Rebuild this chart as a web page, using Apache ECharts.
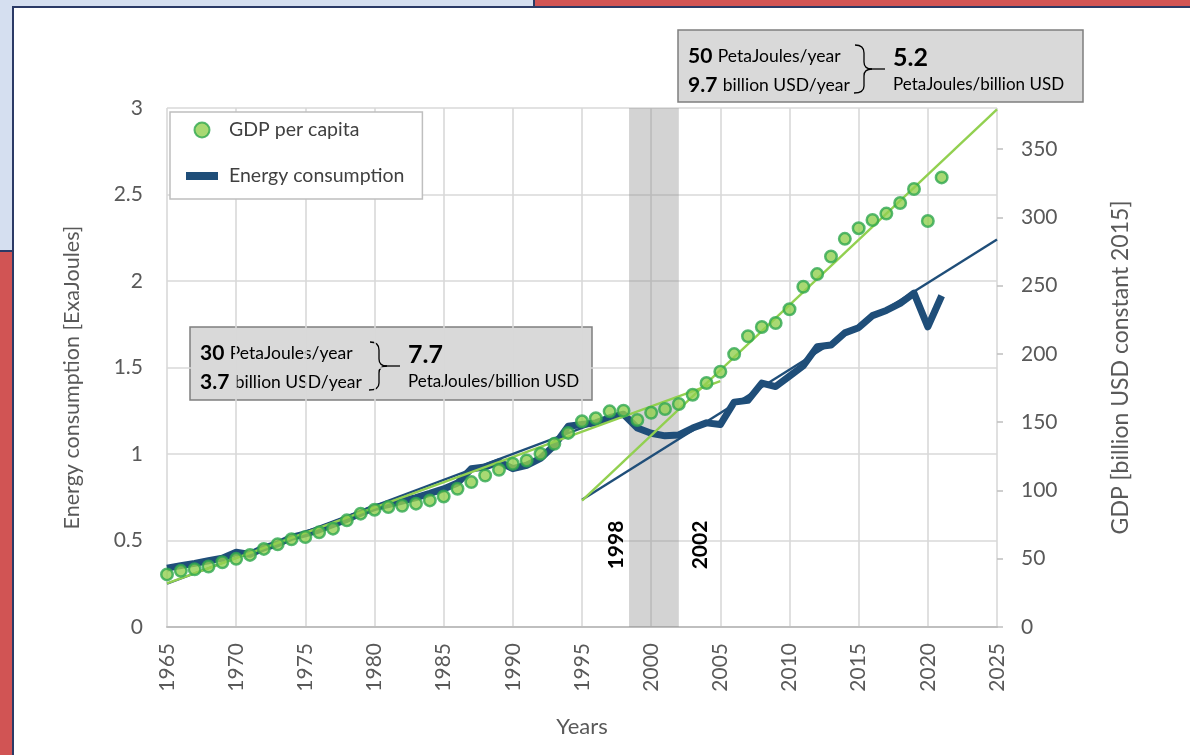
<!DOCTYPE html>
<html>
<head>
<meta charset="utf-8">
<script src="https://cdn.jsdelivr.net/npm/echarts@6/dist/echarts.min.js"></script>
<style>
  html, body { margin: 0; padding: 0; }
  body { width: 1190px; height: 755px; position: relative; overflow: hidden; background: #d15454; }
  #blue { position: absolute; left: 0; top: 0; width: 533px; height: 250px; background: #d5dff0; border-right: 2px solid #2b3a66; border-bottom: 2px solid #2b3a66; }
  #panel { position: absolute; left: 12px; top: 6px; right: 0; bottom: 0; background: #ffffff; border-left: 2px solid #2b3a66; border-top: 2px solid #2b3a66; }
  #chart { position: absolute; left: 0; top: 0; width: 1190px; height: 755px; }
</style>
</head>
<body>
<div id="blue"></div>
<div id="panel"></div>
<div id="chart"></div>
<script>
// ---- data ----
var years = [1965,1966,1967,1968,1969,1970,1971,1972,1973,1974,1975,1976,1977,1978,1979,1980,
  1981,1982,1983,1984,1985,1986,1987,1988,1989,1990,1991,1992,1993,1994,1995,1996,
  1997,1998,1999,2000,2001,2002,2003,2004,2005,2006,2007,
  2008,2009,2010,2011,2012,2013,2014,2015,2016,2017,2018,2019,2020,2021];
var gdpValues = [38.5,41.1,42.3,44.3,47.4,49.9,52.8,57.2,60.6,64.2,65.9,69.3,72.0,78.1,83.0,85.9,
  87.8,88.8,90.3,92.7,95.6,101.2,106.1,110.9,115.1,119.5,121.9,126.8,134.1,142.1,150.6,152.8,
  157.9,158.4,151.6,156.9,159.6,163.3,170.1,178.6,186.9,199.8,212.9,
  219.7,222.6,232.6,249.1,258.4,271.3,284.2,292.0,298.0,302.7,310.4,320.7,297.3,329.2];
var energyValues = [0.34,0.355,0.368,0.383,0.398,0.432,0.42,0.458,0.48,0.518,0.538,0.562,0.592,0.622,0.657,0.69,
  0.707,0.728,0.748,0.772,0.798,0.832,0.915,0.925,0.955,0.915,0.935,0.975,1.05,1.16,1.17,1.18,
  1.21,1.23,1.15,1.12,1.105,1.11,1.15,1.18,1.17,1.30,1.31,
  1.41,1.39,1.45,1.51,1.62,1.63,1.70,1.73,1.80,1.83,1.87,1.93,1.735,1.915];
var gdpTrend1 = [[1965, 32], [2005, 180]];
var energyTrend1 = [[1965, 0.25], [1998, 1.24]];
var gdpTrend2 = [[1995, 92.5], [2025, 379]];
var energyTrend2 = [[1995, 0.735], [2025, 2.24]];
var crisisYears = [1998.4, 2002];
var xTicks = { min: 1965, max: 2025, interval: 5 };
var leftTicks = { min: 0, max: 3, interval: 0.5 };
var rightTicks = { min: 0, max: 380, interval: 50 };

var FONT = 'Lato, "Open Sans", sans-serif';
var BLUE = '#1f4e79';
var GREEN = '#92d050';
var GREEN_EDGE = '#2fa84f';

function pairs(xs, ys) { return xs.map(function (x, i) { return [x, ys[i]]; }); }

var chart = echarts.init(document.getElementById('chart'), null, { renderer: 'canvas' });

function braceParts(bx, y) {
  var st = { stroke: '#000', lineWidth: 1.3, fill: null };
  function curve(x1, y1, cx, cy, x2, y2) {
    return { type: 'bezierCurve', shape: { x1: x1, y1: y1, cpx1: cx, cpy1: cy, x2: x2, y2: y2 }, style: st };
  }
  function seg(x1, y1, x2, y2) {
    return { type: 'line', shape: { x1: x1, y1: y1, x2: x2, y2: y2 }, style: st };
  }
  var c = bx + 9;
  return [
    curve(bx, y + 15, c, y + 15, c, y + 23),
    seg(c, y + 23, c, y + 32),
    curve(c, y + 32, c, y + 39, bx + 17, y + 39),
    seg(bx + 17, y + 39, bx + 30, y + 39),
    curve(bx + 17, y + 39, c, y + 39, c, y + 46),
    seg(c, y + 46, c, y + 56),
    curve(c, y + 56, c, y + 63, bx - 1, y + 63)
  ];
}

function annoBox(x, y, w, h, b1, t1, b2, t2, big, unit, braceX, bigX) {
  var cy1 = y + 26, cy2 = y + 55;
  var rich = { b: { fontFamily: FONT, fontWeight: 'bold', fontSize: 21, fill: '#000' }, n: { fontFamily: FONT, fontSize: 17.5, fill: '#000', padding: [0, 0, 0, 2] } };
  var children = [
    { type: 'rect', shape: { x: x, y: y, width: w, height: h }, style: { fill: '#d9d9d9', stroke: '#7f7f7f', lineWidth: 1.5 } },
    { type: 'text', style: { x: x + 10, y: cy1, text: '{b|' + b1 + '} {n|' + t1 + '}', verticalAlign: 'middle', rich: rich } },
    { type: 'text', style: { x: x + 10, y: cy2, text: '{b|' + b2 + '} {n|' + t2 + '}', verticalAlign: 'middle', rich: rich } },
    { type: 'text', style: { x: bigX, y: cy1 + 2, text: big, verticalAlign: 'middle', fontFamily: FONT, fontWeight: 'bold', fontSize: 25, fill: '#000' } },
    { type: 'text', style: { x: bigX, y: cy2, text: unit, verticalAlign: 'middle', fontFamily: FONT, fontSize: 17, fill: '#000' } }
  ].concat(braceParts(braceX, y));
  return { type: 'group', z: 100, children: children };
}

var option = {
  backgroundColor: 'transparent',
  animation: false,
  textStyle: { fontFamily: FONT },
  grid: { left: 167, right: 193, top: 108, bottom: 128, containLabel: false },
  legend: {
    left: 170, top: 112, orient: 'vertical',
    itemGap: 26, itemWidth: 32, itemHeight: 15,
    padding: [8, 18, 13, 16],
    backgroundColor: '#ffffff', borderColor: '#bfbfbf', borderWidth: 1.5,
    textStyle: { fontFamily: FONT, fontSize: 19.5, color: '#404040', padding: [0, 0, 0, 6] },
    data: [
      { name: 'GDP per capita', icon: 'circle' },
      { name: 'Energy consumption', icon: 'path://M0,0L32,0L32,8L0,8Z' }
    ]
  },
  xAxis: {
    type: 'value', min: xTicks.min, max: xTicks.max, interval: xTicks.interval,
    name: 'Years', nameLocation: 'middle', nameGap: 89,
    nameTextStyle: { fontFamily: FONT, fontSize: 22, color: '#595959' },
    axisLine: { show: true, lineStyle: { color: '#bfbfbf', width: 2 } },
    axisTick: { show: false },
    axisLabel: { rotate: 90, fontFamily: FONT, fontSize: 21, color: '#595959', margin: 16, formatter: function (v) { return String(v); } },
    splitLine: { show: true, lineStyle: { color: '#d9d9d9', width: 1.6 } }
  },
  yAxis: [
    {
      type: 'value', min: leftTicks.min, max: leftTicks.max, interval: leftTicks.interval,
      name: 'Energy consumption [ExaJoules]', nameLocation: 'middle', nameGap: 84, nameRotate: 90,
      nameTextStyle: { fontFamily: FONT, fontSize: 21.5, color: '#595959', padding: [0, 20, 0, 0] },
      axisLine: { show: false }, axisTick: { show: false },
      axisLabel: { fontFamily: FONT, fontSize: 21, color: '#595959', margin: 24 },
      splitLine: { show: true, lineStyle: { color: '#d9d9d9', width: 1.6 } }
    },
    {
      type: 'value', min: rightTicks.min, max: rightTicks.max, interval: rightTicks.interval,
      position: 'right',
      name: 'GDP [billion USD constant 2015]', nameLocation: 'middle', nameGap: 112, nameRotate: 90,
      nameTextStyle: { fontFamily: FONT, fontSize: 23, color: '#595959' },
      axisLine: { show: false },
      axisTick: { show: true, length: 6, lineStyle: { color: '#bfbfbf', width: 1.5 } },
      axisLabel: { fontFamily: FONT, fontSize: 21, color: '#595959', margin: 24, showMaxLabel: false },
      splitLine: { show: false }
    }
  ],
  series: [
    { name: 'trendE1', type: 'line', yAxisIndex: 0, z: 1, data: energyTrend1, showSymbol: false, symbol: 'none', lineStyle: { color: BLUE, width: 2.4 } },
    { name: 'trendE2', type: 'line', yAxisIndex: 0, z: 1, data: energyTrend2, showSymbol: false, symbol: 'none', lineStyle: { color: BLUE, width: 2.4 } },
    {
      name: 'Energy consumption', type: 'line', yAxisIndex: 0, z: 2,
      data: pairs(years, energyValues), showSymbol: false, symbol: 'none',
      color: BLUE, lineStyle: { color: BLUE, width: 7, join: 'round' }
    },
    { name: 'trendG1', type: 'line', yAxisIndex: 1, z: 3, data: gdpTrend1, showSymbol: false, symbol: 'none', lineStyle: { color: GREEN, width: 2.4 } },
    { name: 'trendG2', type: 'line', yAxisIndex: 1, z: 3, data: gdpTrend2, showSymbol: false, symbol: 'none', lineStyle: { color: GREEN, width: 2.4 } },
    {
      name: 'GDP per capita', type: 'scatter', yAxisIndex: 1, z: 4,
      data: pairs(years, gdpValues), symbol: 'circle', symbolSize: 11.5,
      itemStyle: { color: GREEN, borderColor: GREEN_EDGE, borderWidth: 2.5 }
    },
    {
      name: 'band', type: 'line', yAxisIndex: 0, z: 6, data: [], silent: true,
      markArea: { silent: true, itemStyle: { color: 'rgba(140,140,140,0.38)' },
        data: [[{ xAxis: crisisYears[0] }, { xAxis: crisisYears[1] }]] }
    }
  ],
  graphic: [
    annoBox(190, 327, 402, 73, '30', 'PetaJoules/year', '3.7', 'billion USD/year', '7.7', 'PetaJoules/billion USD', 370, 408),
    annoBox(678, 30, 405, 72, '50', 'PetaJoules/year', '9.7', 'billion USD/year', '5.2', 'PetaJoules/billion USD', 855, 893),
    { type: 'text', z: 100, x: 616, y: 545, rotation: Math.PI / 2,
      style: { text: '1998', align: 'center', verticalAlign: 'middle', fontFamily: FONT, fontWeight: 'bold', fontSize: 21, fill: '#000' } },
    { type: 'text', z: 100, x: 700, y: 545, rotation: Math.PI / 2,
      style: { text: '2002', align: 'center', verticalAlign: 'middle', fontFamily: FONT, fontWeight: 'bold', fontSize: 21, fill: '#000' } }
  ]
};
chart.setOption(option);
</script>
</body>
</html>
